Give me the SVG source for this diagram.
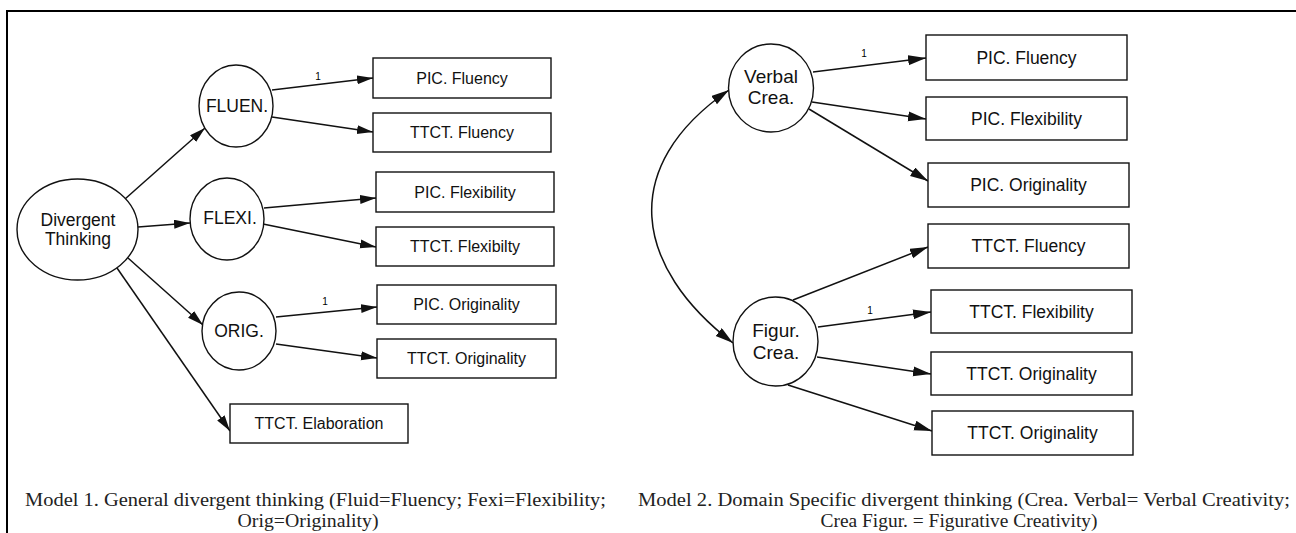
<svg xmlns="http://www.w3.org/2000/svg" width="1296" height="533" viewBox="0 0 1296 533">
<defs>
<style>
.frame{stroke:#000;stroke-width:2;fill:none}
.node{fill:#fff;stroke:#111;stroke-width:1.4}
.edge{fill:none;stroke:#111;stroke-width:1.5}
.lbl{font-family:"Liberation Sans",Arial,sans-serif;fill:#111;text-anchor:middle}
.c1{font-size:17.5px}
.b1{font-size:16px}
.c2{font-size:19px}
.b2{font-size:17.5px}
.one{font-family:"Liberation Sans",Arial,sans-serif;font-size:10px;fill:#000;text-anchor:middle}
.cap{font-family:"Liberation Serif","Times New Roman",serif;font-size:19.5px;fill:#222;text-anchor:middle}
</style>
<marker id="a1" markerUnits="userSpaceOnUse" markerWidth="17" markerHeight="10" refX="16" refY="4.5" orient="auto">
<path d="M0,0 L16,4.5 L0,9 z" fill="#111"/>
</marker>
<marker id="a2" markerUnits="userSpaceOnUse" markerWidth="19" markerHeight="11" refX="18" refY="5" orient="auto-start-reverse">
<path d="M0,0 L18,5 L0,10 z" fill="#111"/>
</marker>
</defs>
<rect width="1296" height="533" fill="#fff"/>
<path class="frame" d="M7,533 L7,11 L1296,11"/>

<g id="connectors">
<line class="edge" x1="125" y1="199" x2="205" y2="128" marker-end="url(#a1)"/>
<line class="edge" x1="138" y1="227" x2="190" y2="223" marker-end="url(#a1)"/>
<line class="edge" x1="128" y1="258" x2="203" y2="325" marker-end="url(#a1)"/>
<line class="edge" x1="117" y1="268" x2="230" y2="431" marker-end="url(#a1)"/>
<line class="edge" x1="272" y1="90" x2="373" y2="78" marker-end="url(#a1)"/>
<line class="edge" x1="272" y1="117" x2="373" y2="132" marker-end="url(#a1)"/>
<line class="edge" x1="264" y1="208" x2="376" y2="198" marker-end="url(#a1)"/>
<line class="edge" x1="263" y1="224" x2="376" y2="247" marker-end="url(#a1)"/>
<line class="edge" x1="276" y1="317" x2="377" y2="307" marker-end="url(#a1)"/>
<line class="edge" x1="276" y1="344" x2="377" y2="358" marker-end="url(#a1)"/>
<text class="one" x="318" y="80">1</text>
<text class="one" x="325" y="305">1</text>

<line class="edge" x1="813" y1="72" x2="926" y2="58" marker-end="url(#a2)"/>
<line class="edge" x1="812" y1="102" x2="926" y2="119" marker-end="url(#a2)"/>
<line class="edge" x1="809" y1="109" x2="928" y2="181" marker-end="url(#a2)"/>
<line class="edge" x1="793" y1="300" x2="928" y2="247" marker-end="url(#a2)"/>
<line class="edge" x1="818" y1="327" x2="931" y2="312" marker-end="url(#a2)"/>
<line class="edge" x1="817" y1="357" x2="931" y2="374" marker-end="url(#a2)"/>
<line class="edge" x1="788" y1="385" x2="932" y2="431" marker-end="url(#a2)"/>
<path class="edge" d="M729,90 C617,167 634,267 733,343" marker-start="url(#a2)" marker-end="url(#a2)"/>
<text class="one" x="864" y="57">1</text>
<text class="one" x="870" y="314">1</text>
</g>

<g id="divergent-thinking">
<ellipse class="node" cx="77.5" cy="229.5" rx="60.5" ry="50.5"/>
<text class="lbl c1" x="78" y="226">Divergent</text>
<text class="lbl c1" x="78" y="245">Thinking</text>
</g>
<g id="fluen">
<ellipse class="node" cx="236" cy="106" rx="37" ry="41"/>
<text class="lbl c1" x="237" y="112">FLUEN.</text>
</g>
<g id="flexi">
<ellipse class="node" cx="227" cy="219" rx="37" ry="41"/>
<text class="lbl c1" x="230" y="224">FLEXI.</text>
</g>
<g id="orig">
<ellipse class="node" cx="239" cy="331" rx="37" ry="39"/>
<text class="lbl c1" x="239" y="337">ORIG.</text>
</g>

<g id="m1-pic-fluency"><rect class="node" x="373" y="58" width="178" height="40"/><text class="lbl b1" x="462" y="83.7">PIC. Fluency</text></g>
<g id="m1-ttct-fluency"><rect class="node" x="373" y="113" width="178" height="39"/><text class="lbl b1" x="462" y="138.2">TTCT. Fluency</text></g>
<g id="m1-pic-flexibility"><rect class="node" x="376" y="172" width="178" height="40"/><text class="lbl b1" x="465" y="197.7">PIC. Flexibility</text></g>
<g id="m1-ttct-flexibilty"><rect class="node" x="376" y="227" width="178" height="39"/><text class="lbl b1" x="465" y="252.2">TTCT. Flexibilty</text></g>
<g id="m1-pic-originality"><rect class="node" x="377" y="285" width="179" height="39"/><text class="lbl b1" x="466.5" y="310.2">PIC. Originality</text></g>
<g id="m1-ttct-originality"><rect class="node" x="377" y="339" width="179" height="39"/><text class="lbl b1" x="466.5" y="364.2">TTCT. Originality</text></g>
<g id="m1-ttct-elaboration"><rect class="node" x="230" y="404" width="178" height="39"/><text class="lbl b1" x="319" y="429.2">TTCT. Elaboration</text></g>

<g id="verbal-crea">
<ellipse class="node" cx="771" cy="88" rx="42.5" ry="44"/>
<text class="lbl c2" x="771" y="83">Verbal</text>
<text class="lbl c2" x="771" y="104">Crea.</text>
</g>
<g id="figur-crea">
<ellipse class="node" cx="775.5" cy="341.5" rx="42.5" ry="44.5"/>
<text class="lbl c2" x="776" y="337">Figur.</text>
<text class="lbl c2" x="776" y="359">Crea.</text>
</g>

<g id="m2-pic-fluency"><rect class="node" x="926" y="35" width="201" height="45"/><text class="lbl b2" x="1026.5" y="63.6">PIC. Fluency</text></g>
<g id="m2-pic-flexibility"><rect class="node" x="926" y="97" width="201" height="43"/><text class="lbl b2" x="1026.5" y="124.6">PIC. Flexibility</text></g>
<g id="m2-pic-originality"><rect class="node" x="928" y="163" width="201" height="44"/><text class="lbl b2" x="1028.5" y="191.1">PIC. Originality</text></g>
<g id="m2-ttct-fluency"><rect class="node" x="928" y="224" width="201" height="44"/><text class="lbl b2" x="1028.5" y="252.1">TTCT. Fluency</text></g>
<g id="m2-ttct-flexibility"><rect class="node" x="931" y="290" width="201" height="43"/><text class="lbl b2" x="1031.5" y="317.6">TTCT. Flexibility</text></g>
<g id="m2-ttct-originality-1"><rect class="node" x="931" y="352" width="201" height="43"/><text class="lbl b2" x="1031.5" y="379.6">TTCT. Originality</text></g>
<g id="m2-ttct-originality-2"><rect class="node" x="932" y="411" width="201" height="44"/><text class="lbl b2" x="1032.5" y="439.1">TTCT. Originality</text></g>

<g id="captions">
<text class="cap" x="315.5" y="506" textLength="581" lengthAdjust="spacingAndGlyphs">Model 1. General divergent thinking (Fluid=Fluency; Fexi=Flexibility;</text>
<text class="cap" x="308" y="527" textLength="141" lengthAdjust="spacingAndGlyphs">Orig=Originality)</text>
<text class="cap" x="964" y="506" textLength="652" lengthAdjust="spacingAndGlyphs">Model 2. Domain Specific divergent thinking (Crea. Verbal= Verbal Creativity;</text>
<text class="cap" x="959" y="527" textLength="277" lengthAdjust="spacingAndGlyphs">Crea Figur. = Figurative Creativity)</text>
</g>
</svg>
